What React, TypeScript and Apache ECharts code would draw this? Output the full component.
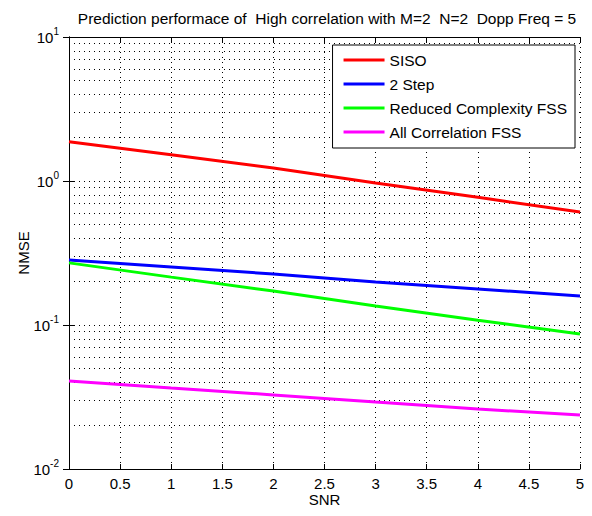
import React, { useEffect, useRef } from "react";
import * as echarts from "echarts";

const snr = [0, 1, 2, 3, 4, 5];
const siso = [1.87, 1.52, 1.23, 0.97, 0.77, 0.61];
const twoStep = [0.283, 0.253, 0.226, 0.199, 0.178, 0.159];
const reducedFss = [0.27, 0.215, 0.172, 0.1355, 0.108, 0.0866];
const allCorrFss = [0.0408, 0.0365, 0.0327, 0.0292, 0.0261, 0.0237];
const minorGridValues = [
  0.02, 0.03, 0.04, 0.05, 0.06, 0.07, 0.08, 0.09,
  0.2, 0.3, 0.4, 0.5, 0.6, 0.7, 0.8, 0.9,
  2, 3, 4, 5, 6, 7, 8, 9,
];
const titleText = "Prediction performace of  High correlation with M=2  N=2  Dopp Freq = 5";

const FONT = "Liberation Sans";

function pairs(ys: number[]) {
  return snr.map((x, i) => [x, ys[i]]);
}

export default function App() {
  const ref = useRef<HTMLDivElement>(null);
  useEffect(() => {
    if (!ref.current) return;
    const chart = echarts.init(ref.current, undefined, { renderer: "svg" });
    const dotted = { color: "#000", width: 1, type: [1, 4] as any };
    const mkSeries = (name: string, color: string, ys: number[], width: number) => ({
      name,
      type: "line",
      data: pairs(ys),
      showSymbol: false,
      symbol: "none",
      lineStyle: { color, width },
      itemStyle: { color },
      z: 5,
    });
    chart.setOption({
      animation: false,
      backgroundColor: "#fff",
      title: {
        text: titleText,
        left: 322,
        textAlign: "center",
        top: 5,
        textStyle: { fontFamily: FONT, fontSize: 15.5, fontWeight: "normal", color: "#000" },
      },
      legend: {
        orient: "vertical",
        right: 17,
        top: 45,
        width: 242,
        z: 50,
        zlevel: 0,
        backgroundColor: "#fff",
        borderColor: "#000",
        borderWidth: 1,
        borderRadius: 0,
        padding: [6, 8, 7, 11],
        icon: "rect",
        itemWidth: 41,
        itemHeight: 3,
        itemGap: 6,
        textStyle: { fontFamily: FONT, fontSize: 15.5, color: "#000", height: 18, lineHeight: 18 },
        data: ["SISO", "2 Step", "Reduced Complexity FSS", "All Correlation FSS"],
      },
      grid: { left: 69, right: 12, top: 37, bottom: 47, containLabel: false },
      xAxis: [
        {
          type: "value",
          min: 0,
          max: 5,
          interval: 0.5,
          name: "SNR",
          nameLocation: "middle",
          nameGap: 23,
          nameMoveOverlap: false,
          nameTextStyle: { fontFamily: FONT, fontSize: 15, color: "#000" },
          axisLine: { lineStyle: { color: "#000", width: 1 } },
          axisTick: { inside: true, length: 5, lineStyle: { color: "#000" } },
          axisLabel: { fontFamily: FONT, fontSize: 15, color: "#000", margin: 7 },
          splitLine: { show: true, lineStyle: dotted },
        },
        {
          type: "value",
          position: "top",
          min: 0,
          max: 5,
          interval: 0.5,
          axisLine: { show: true, lineStyle: { color: "#000", width: 1 } },
          axisTick: { show: true, inside: true, length: 5, lineStyle: { color: "#000" } },
          axisLabel: { show: false },
          splitLine: { show: false },
        },
      ],
      yAxis: [
        {
          type: "log",
          logBase: 10,
          min: 0.01,
          max: 10,
          name: "NMSE",
          nameLocation: "middle",
          nameGap: 38,
          nameMoveOverlap: false,
          nameRotate: 90,
          nameTextStyle: { fontFamily: FONT, fontSize: 15, color: "#000" },
          axisLine: { show: true, lineStyle: { color: "#000", width: 1 } },
          axisTick: { show: true, inside: true, length: 6, lineStyle: { color: "#000" } },
          axisLabel: {
            fontFamily: FONT,
            fontSize: 15,
            color: "#000",
            margin: 10,
            formatter: (v: number) => `{b|10}{s|${Math.round(Math.log10(v))}}`,
            rich: {
              b: { fontFamily: FONT, fontSize: 15, color: "#000" },
              s: { fontFamily: FONT, fontSize: 10, color: "#000", verticalAlign: "top", padding: [0, 0, 12, 0] },
            },
          },
          splitLine: { show: true, lineStyle: dotted },
        },
        {
          type: "log",
          logBase: 10,
          min: 0.01,
          max: 10,
          position: "right",
          axisLine: { show: true, lineStyle: { color: "#000", width: 1 } },
          axisTick: { show: true, inside: true, length: 6, lineStyle: { color: "#000" } },
          axisLabel: { show: false },
          splitLine: { show: false },
        },
      ],
      series: [
        {
          name: "grid-minor",
          type: "line",
          data: [],
          silent: true,
          z: 1,
          markLine: {
            silent: true,
            z: 1,
            symbol: ["none", "none"],
            label: { show: false },
            lineStyle: dotted,
            data: minorGridValues.map((v) => ({ yAxis: v })),
          },
        },
        mkSeries("SISO", "#ff0000", siso, 3),
        mkSeries("2 Step", "#0000ff", twoStep, 3),
        mkSeries("Reduced Complexity FSS", "#00ff00", reducedFss, 3),
        mkSeries("All Correlation FSS", "#ff00ff", allCorrFss, 3),
      ],
    });
    return () => chart.dispose();
  }, []);
  return <div ref={ref} style={{ width: 592, height: 516, margin: -8 }} />;
}
